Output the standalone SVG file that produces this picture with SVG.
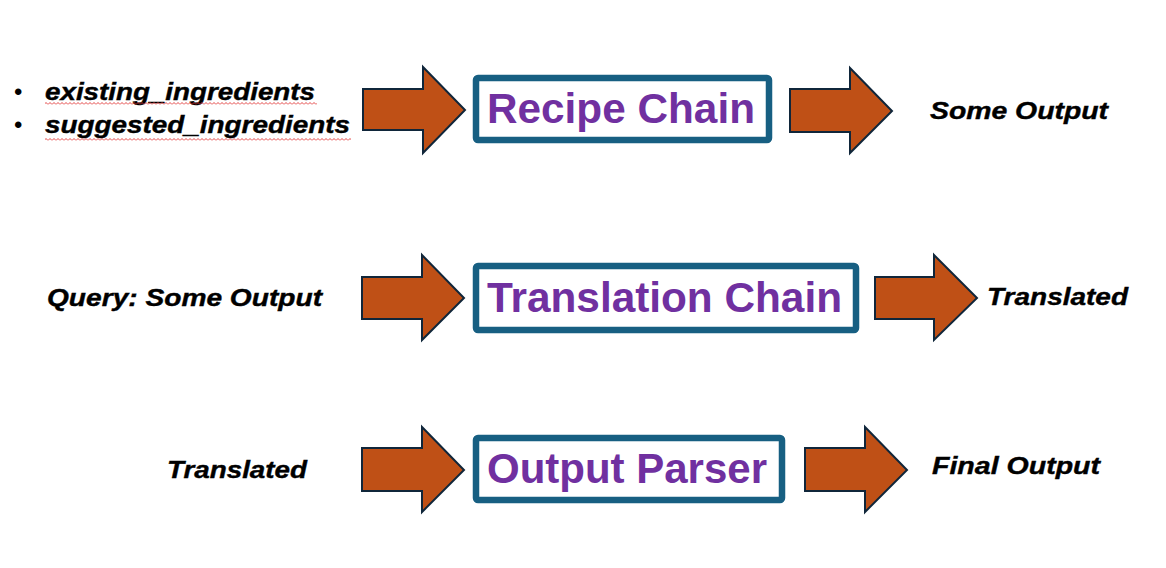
<svg xmlns="http://www.w3.org/2000/svg" width="1166" height="568" viewBox="0 0 1166 568">
  <defs>
    <pattern id="squiggle" x="0" y="0" width="4" height="3" patternUnits="userSpaceOnUse">
      <path d="M0,2.5 L2,0.5 L4,2.5" fill="none" stroke="#E03030" stroke-width="0.9"/>
    </pattern>
  </defs>
  <style>
    .arrow { fill: #BF5016; stroke: #10263A; stroke-width: 2; stroke-linejoin: miter; }
    .box { fill: #FFFFFF; stroke: #175F82; stroke-width: 6.5; }
    .title { font-family: "Liberation Sans", Arial, sans-serif; font-weight: bold; font-size: 42px; fill: #7030A0; }
    .label { font-family: "Liberation Sans", Arial, sans-serif; font-weight: bold; font-style: italic; font-size: 24px; fill: #000000; stroke: #000000; stroke-width: 0.4; }
    .bullet { font-family: "Liberation Sans", Arial, sans-serif; font-size: 24px; fill: #000000; }
  </style>
  <rect width="1166" height="568" fill="#FFFFFF"/>

  <g id="connectors">
    <polygon class="arrow" points="363,89 423,89 423,67 465,110 423,153 423,130 363,130"/>
    <polygon class="arrow" points="790,89 850,89 850,68 892,111 850,153 850,132 790,132"/>
    <polygon class="arrow" points="362,277 422,277 422,255 464,298 422,340 422,319 362,319"/>
    <polygon class="arrow" points="875,277 934,277 934,255 977,298 934,340 934,319 875,319"/>
    <polygon class="arrow" points="362,448 422,448 422,427 464,470 422,512 422,491 362,491"/>
    <polygon class="arrow" points="805,448 865,448 865,427 907,470 865,512 865,491 805,491"/>
  </g>

  <g id="inputs-recipe">
    <text class="bullet" x="14" y="100">•</text>
    <text class="label" x="45" y="100" textLength="270" lengthAdjust="spacingAndGlyphs">existing_ingredients</text>
    <rect x="45" y="102" width="272" height="3" fill="url(#squiggle)"/>
    <text class="bullet" x="14" y="133">•</text>
    <text class="label" x="45" y="133" textLength="305" lengthAdjust="spacingAndGlyphs">suggested_ingredients</text>
    <rect x="45" y="138" width="306" height="3" fill="url(#squiggle)"/>
  </g>

  <g id="recipe-chain">
    <rect class="box" x="476" y="78" width="293" height="62" rx="2"/>
    <text class="title" x="487" y="123" textLength="268" lengthAdjust="spacingAndGlyphs">Recipe Chain</text>
  </g>

  <g id="recipe-output">
    <text class="label" x="930" y="119" textLength="178" lengthAdjust="spacingAndGlyphs">Some Output</text>
  </g>

  <g id="translation-input">
    <text class="label" x="47" y="306" textLength="275" lengthAdjust="spacingAndGlyphs">Query: Some Output</text>
  </g>

  <g id="translation-chain">
    <rect class="box" x="476" y="266" width="380" height="64" rx="2"/>
    <text class="title" x="487" y="312" textLength="355" lengthAdjust="spacingAndGlyphs">Translation Chain</text>
  </g>

  <g id="translation-output">
    <text class="label" x="987" y="305" textLength="141" lengthAdjust="spacingAndGlyphs">Translated</text>
  </g>

  <g id="parser-input">
    <text class="label" x="167" y="478" textLength="140" lengthAdjust="spacingAndGlyphs">Translated</text>
  </g>

  <g id="output-parser">
    <rect class="box" x="476" y="438" width="306" height="62" rx="2"/>
    <text class="title" x="487" y="483" textLength="280" lengthAdjust="spacingAndGlyphs">Output Parser</text>
  </g>

  <g id="final-output">
    <text class="label" x="932" y="474" textLength="168" lengthAdjust="spacingAndGlyphs">Final Output</text>
  </g>
</svg>
